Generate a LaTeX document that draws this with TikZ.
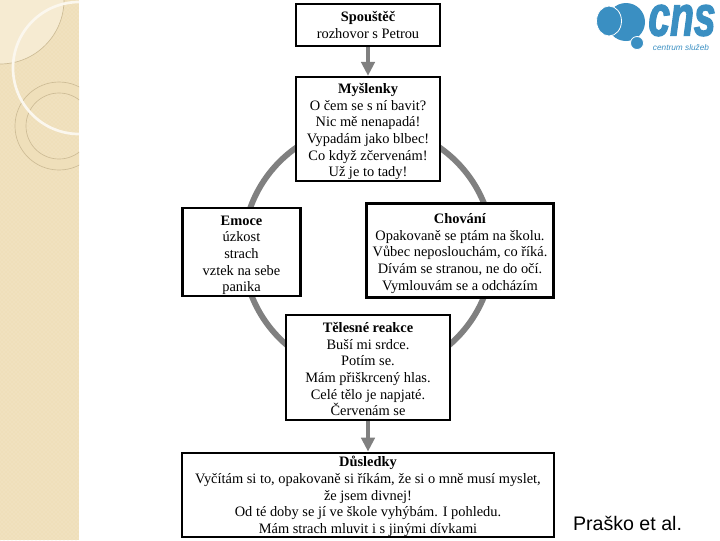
\documentclass[tikz,border=0pt]{standalone}
\usepackage{fontspec}
\setmainfont{Liberation Serif}
\newfontfamily\labelfont{Liberation Sans}
\newfontfamily\logofont[UprightFont=* Bold Italic,FakeBold=2,FakeStretch=0.68]{Liberation Sans}
\newcommand{\dropline}[1]{\rule{0pt}{#1}}
\usepackage{tikz}
\usetikzlibrary{arrows.meta,positioning,calc,patterns}
\definecolor{paneltan}{HTML}{EFDFBA}
\definecolor{panellight}{HTML}{F6EBD2}
\definecolor{ringtan}{HTML}{CDBC96}
\definecolor{logoblue}{HTML}{3A8FC2}
\tikzset{
    stepbox/.style={draw=black,line width=1.7pt,fill=white,align=center,inner sep=0pt,
        font=\fontsize{10.8pt}{12.5pt}\selectfont},
    heavybox/.style={stepbox,line width=2.1pt},
    flowarrow/.style={draw=black!50,line width=3.2pt,-{Triangle[length=10.5pt,width=10pt]}},
}
\begin{document}
\begin{tikzpicture}[x=0.75pt,y=-0.75pt]
    \useasboundingbox (0,0) rectangle (720,540);

    % Side panel
    \fill[paneltan] (0,0) rectangle (79,540);
    \fill[pattern=crosshatch dots,pattern color=panellight] (0,0) rectangle (79,540);
    \begin{scope}
        \clip (0,0) rectangle (79,540);
        \fill[panellight,draw=ringtan,line width=0.5pt] (0,0) circle (64);
        \fill[paneltan,draw=ringtan,line width=0.5pt,even odd rule] (59,126) circle (44) (59,126) circle (33);
        \draw[white!75!paneltan,line width=2pt] (79,68) circle (66);
    \end{scope}

    % Logo
    \fill[logoblue] (626,22) circle (19);
    \fill[logoblue,draw=white,line width=0.6pt] (637,43) circle (6.5);
    \fill[logoblue,draw=white,line width=0.6pt] (609,21) ellipse (12.5 and 15);
    \node[text=logoblue,font=\logofont\fontsize{43pt}{43pt}\selectfont,inner sep=0pt] (logoname) at (682,20.5) {cns};
    \node[text=logoblue,font=\labelfont\itshape\fontsize{6.2pt}{7pt}\selectfont,inner sep=0pt] (logotext) at (681,48) {centrum služeb};

    % Cycle behind the boxes
    \coordinate (hub) at (368,250);
    \draw[black!50,line width=4.4pt] (hub) circle (125);

    % Boxes
    \node[stepbox,minimum width=108pt,minimum height=32pt] (trigger) at (368,25) {\textbf{Spouštěč}\\rozhovor s Petrou};
    \node[stepbox,minimum width=108pt,minimum height=78pt] (thoughts) at (368,129) {\dropline{11.8pt}\textbf{Myšlenky}\\O čem se s ní bavit?\\Nic mě nenapadá!\\Vypadám jako blbec!\\Co když zčervenám!\\Už je to tady!};
    \node[heavybox,minimum width=89pt,minimum height=66pt] (emotions) at (241.5,252) {\dropline{11.8pt}\textbf{Emoce}\\úzkost\\strach\\vztek na sebe\\panika};
    \node[heavybox,minimum width=140pt,minimum height=70pt] (behaviour) at (460,250.5) {\dropline{11.8pt}\textbf{Chování}\\Opakovaně se ptám na školu.\\Vůbec neposlouchám, co říká.\\Dívám se stranou, ne do očí.\\Vymlouvám se a odcházím};
    \node[stepbox,minimum width=123pt,minimum height=79pt] (body) at (368,367.5) {\dropline{10.3pt}\textbf{Tělesné reakce}\\Buší mi srdce.\\Potím se.\\Mám přiškrcený hlas.\\Celé tělo je napjaté.\\Červenám se};
    \node[heavybox,minimum width=279pt,minimum height=63pt] (result) at (368,495) {\dropline{10.3pt}\textbf{Důsledky}\\Vyčítám si to, opakovaně si říkám, že si o mně musí myslet,\\že jsem divnej!\\Od té doby se jí ve škole vyhýbám. I pohledu.\\Mám strach mluvit i s jinými dívkami};

    % Arrows
    \draw[flowarrow] (trigger) -- (thoughts);
    \draw[flowarrow] (body) -- (result);

    \node[font=\labelfont\fontsize{14.7pt}{16pt}\selectfont,inner sep=0pt] (source) at (627.5,523) {Praško et al.};
\end{tikzpicture}
\end{document}
